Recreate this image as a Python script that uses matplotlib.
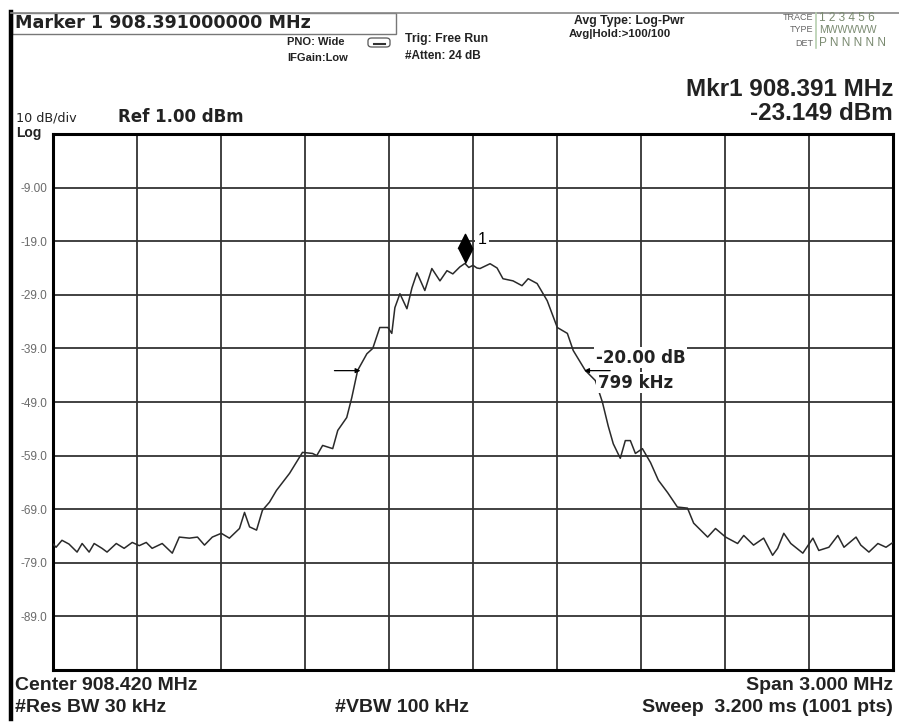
import matplotlib
matplotlib.use("Agg")
import matplotlib.pyplot as plt
from matplotlib.patches import Rectangle, FancyBboxPatch
from matplotlib.lines import Line2D

# Ajustes del analizador
center_mhz = 908.420
span_mhz = 3.000
ref_dbm = 1.00
db_div = 10

ytick_vals = [-9, -19, -29, -39, -49, -59, -69, -79, -89]
ytick_labels = ["-9.00", "-19.0", "-29.0", "-39.0", "-49.0", "-59.0", "-69.0", "-79.0", "-89.0"]

# Traza (MHz, dBm)
freq_mhz = [906.920, 906.931, 906.952, 906.977, 907.006, 907.024, 907.049, 907.067, 907.095,
            907.113, 907.146, 907.174, 907.203, 907.228, 907.253, 907.274, 907.310, 907.346,
            907.371, 907.407, 907.436, 907.461, 907.489, 907.521, 907.550, 907.586, 907.604,
            907.622, 907.647, 907.668, 907.693, 907.718, 907.765, 907.811, 907.847, 907.862,
            907.883, 907.919, 907.937, 907.969, 907.987, 908.008, 908.041, 908.062, 908.087,
            908.116, 908.130, 908.141, 908.159, 908.184, 908.202, 908.220, 908.248, 908.273,
            908.302, 908.327, 908.348, 908.373, 908.391, 908.405, 908.420, 908.434, 908.445,
            908.481, 908.506, 908.527, 908.563, 908.595, 908.617, 908.649, 908.685, 908.721,
            908.757, 908.778, 908.821, 908.857, 908.882, 908.903, 908.921, 908.946, 908.964,
            908.982, 909.000, 909.025, 909.054, 909.082, 909.115, 909.150, 909.186, 909.208,
            909.258, 909.286, 909.322, 909.365, 909.387, 909.422, 909.458, 909.490, 909.508,
            909.530, 909.555, 909.598, 909.634, 909.655, 909.691, 909.723, 909.745, 909.788,
            909.805, 909.834, 909.866, 909.895, 909.920]
level_dbm = [-75.5, -76.1, -74.8, -75.5, -77.0, -75.4, -77.0, -75.4, -76.3,
             -77.0, -75.4, -76.3, -75.2, -75.8, -75.2, -76.3, -75.4, -77.2,
             -74.2, -74.4, -74.2, -75.7, -74.2, -73.5, -74.4, -72.6, -69.6,
             -72.3, -72.9, -69.2, -67.7, -65.5, -62.3, -58.4, -58.6, -59.0,
             -57.1, -57.7, -54.3, -51.9, -48.2, -43.1, -40.0, -39.0, -35.1,
             -35.1, -36.2, -31.4, -28.8, -31.6, -27.7, -24.9, -28.2, -24.1,
             -26.4, -24.5, -25.1, -23.8, -23.149, -23.9, -23.5, -24.0, -24.1,
             -23.2, -24.0, -26.0, -26.4, -27.3, -26.0, -26.9, -30.1, -35.1,
             -36.2, -39.4, -43.1, -45.0, -49.0, -53.5, -56.8, -59.5, -56.2,
             -56.2, -58.6, -57.7, -60.3, -63.6, -65.9, -68.6, -68.8, -71.6,
             -74.2, -72.6, -74.2, -75.4, -73.9, -75.7, -74.4, -77.6, -76.3,
             -73.5, -75.4, -77.2, -74.4, -76.7, -76.1, -73.9, -76.1, -74.2,
             -75.7, -77.0, -75.4, -76.1, -75.2]

mkr_freq = 908.391
mkr_level = -23.149
ndb_left = 908.018
ndb_right = 908.817
ndb_level = -43.149

W, H = 899, 722
NARROW = ["Liberation Sans Narrow", "Liberation Sans", "DejaVu Sans"]
ARIAL = ["Liberation Sans", "DejaVu Sans"]
WIDE = ["DejaVu Sans"]
INK = "#222222"


def fx(x):
    return x / W


def fy(y):
    return 1 - y / H


fig = plt.figure(figsize=(W / 100, H / 100), dpi=100)
fig.patch.set_facecolor("white")

# Marco de la captura
fig.add_artist(Line2D([fx(11), fx(11)], [fy(12), fy(719)], color="black", lw=3.2))
fig.add_artist(Line2D([fx(11), fx(899)], [fy(12.5), fy(12.5)], color="#888888", lw=1.2))
fig.add_artist(Rectangle((fx(12), fy(34)), fx(396) - fx(12), fy(12.5) - fy(34),
                         fill=False, edgecolor="#777777", lw=1.0))

# Cabecera
fig.text(fx(15), fy(23), "Marker 1 908.391000000 MHz", fontsize=12.6, fontweight="bold",
         family=WIDE, ha="left", va="center", color=INK)
fig.text(fx(287), fy(42), "PNO: Wide", fontsize=8, fontweight="bold", family=ARIAL,
         ha="left", va="center", color=INK)
fig.text(fx(287), fy(58), "IFGain:Low", fontsize=8, fontweight="bold", family=ARIAL,
         ha="left", va="center", color=INK)
fig.add_artist(FancyBboxPatch((fx(368), fy(47)), fx(390) - fx(368), fy(38) - fy(47),
                              boxstyle="round,pad=0,rounding_size=0.004",
                              fill=False, edgecolor="#555555", lw=0.9))
fig.add_artist(Line2D([fx(374), fx(385)], [fy(44), fy(44)], color="#333333", lw=1.5))
fig.text(fx(405), fy(39), "Trig: Free Run", fontsize=8.8, fontweight="bold", family=ARIAL,
         ha="left", va="center", color=INK)
fig.text(fx(405), fy(56), "#Atten: 24 dB", fontsize=8.5, fontweight="bold", family=ARIAL,
         ha="left", va="center", color=INK)
fig.text(fx(574), fy(21), "Avg Type: Log-Pwr", fontsize=8.8, fontweight="bold", family=ARIAL,
         ha="left", va="center", color=INK)
fig.text(fx(569), fy(34), "Avg|Hold:>100/100", fontsize=8.2, fontweight="bold", family=ARIAL,
         ha="left", va="center", color=INK)

# Tabla de trazas
fig.add_artist(Line2D([fx(816), fx(816)], [fy(13), fy(48)], color="#b8d0b0", lw=1.2))
for yy, lab, vals in [(18, "TRACE", "1 2 3 4 5 6"), (30, "TYPE", "MWWWWW"), (43, "DET", "P N N N N N")]:
    fig.text(fx(813), fy(yy), lab, fontsize=6.5, family=NARROW, ha="right", va="center",
             color="#666666")
    fig.text(fx(819), fy(yy), vals, fontsize=8.5 if lab != "TYPE" else 7.5, family=ARIAL,
             ha="left", va="center", color="#7a8a70")

fig.text(fx(893), fy(89), "Mkr1 908.391 MHz", fontsize=17.5, fontweight="bold", family=ARIAL,
         ha="right", va="center", color=INK)
fig.text(fx(893), fy(113), "-23.149 dBm", fontsize=17.5, fontweight="bold", family=ARIAL,
         ha="right", va="center", color=INK)
fig.text(fx(16), fy(118), "10 dB/div", fontsize=9.2, family=WIDE, ha="left", va="center",
         color=INK)
fig.text(fx(16), fy(133), "Log", fontsize=10, fontweight="bold", family=ARIAL, ha="left",
         va="center", color=INK)
fig.text(fx(118), fy(117), "Ref 1.00 dBm", fontsize=12, fontweight="bold", family=WIDE,
         ha="left", va="center", color=INK)

# Zona de la traza
ax = fig.add_axes([fx(53), fy(670), fx(893) - fx(53), fy(134) - fy(670)])
ax.set_xlim(center_mhz - span_mhz / 2, center_mhz + span_mhz / 2)
ax.set_ylim(ref_dbm - 10 * db_div, ref_dbm)
ax.set_xticks([center_mhz - span_mhz / 2 + i * span_mhz / 10 for i in range(1, 10)])
ax.set_xticklabels([])
ax.set_yticks(ytick_vals)
ax.set_yticklabels(ytick_labels, fontsize=8.5, color="#6a6a6a", family=ARIAL)
ax.tick_params(length=0, pad=4)
ax.grid(True, color="#333333", lw=1.3)
for sp in ax.spines.values():
    sp.set_linewidth(2.2)
    sp.set_color("black")

ax.plot(freq_mhz, level_dbm, color="#2a2a2a", lw=1.1, zorder=3)

# Marcador 1
ax.plot([mkr_freq], [mkr_level], marker=[(0, 0), (0.5, 1), (0, 2), (-0.5, 1)], ms=42,
        color="black", zorder=5)
ax.annotate("1", xy=(mkr_freq, mkr_level), xytext=(17, 24), textcoords="offset pixels",
            fontsize=11.5, family=ARIAL, ha="center", va="center", zorder=6,
            bbox=dict(boxstyle="square,pad=0.15", fc="white", ec="none"))

# Medida de -20 dB
ax.annotate("", xy=(ndb_left, ndb_level), xytext=(-26, 0), textcoords="offset pixels",
            arrowprops=dict(arrowstyle="-|>", color="black", lw=0.9, mutation_scale=7,
                            shrinkA=0, shrinkB=0), zorder=6)
ax.annotate("", xy=(ndb_right, ndb_level), xytext=(26, 0), textcoords="offset pixels",
            arrowprops=dict(arrowstyle="-|>", color="black", lw=0.9, mutation_scale=7,
                            shrinkA=0, shrinkB=0), zorder=6)
ax.annotate("-20.00 dB", xy=(ndb_right, ndb_level), xytext=(12, 13), textcoords="offset pixels",
            fontsize=12, fontweight="bold", family=WIDE, ha="left", va="center", zorder=6,
            color=INK, bbox=dict(boxstyle="square,pad=0.1", fc="white", ec="none"))
ax.annotate("799 kHz", xy=(ndb_right, ndb_level), xytext=(14, -12), textcoords="offset pixels",
            fontsize=12, fontweight="bold", family=WIDE, ha="left", va="center", zorder=6,
            color=INK, bbox=dict(boxstyle="square,pad=0.1", fc="white", ec="none"))

# Pie
fig.text(fx(15), fy(686), "Center 908.420 MHz", fontsize=14, fontweight="bold", family=NARROW,
         ha="left", va="center", color=INK)
fig.text(fx(15), fy(708), "#Res BW 30 kHz", fontsize=14, fontweight="bold", family=NARROW,
         ha="left", va="center", color=INK)
fig.text(fx(335), fy(708), "#VBW 100 kHz", fontsize=14, fontweight="bold", family=NARROW,
         ha="left", va="center", color=INK)
fig.text(fx(893), fy(686), "Span 3.000 MHz", fontsize=14, fontweight="bold", family=NARROW,
         ha="right", va="center", color=INK)
fig.text(fx(893), fy(708), "Sweep  3.200 ms (1001 pts)", fontsize=14, fontweight="bold",
         family=NARROW, ha="right", va="center", color=INK)

fig.savefig("out.png", dpi=100, facecolor="white")
